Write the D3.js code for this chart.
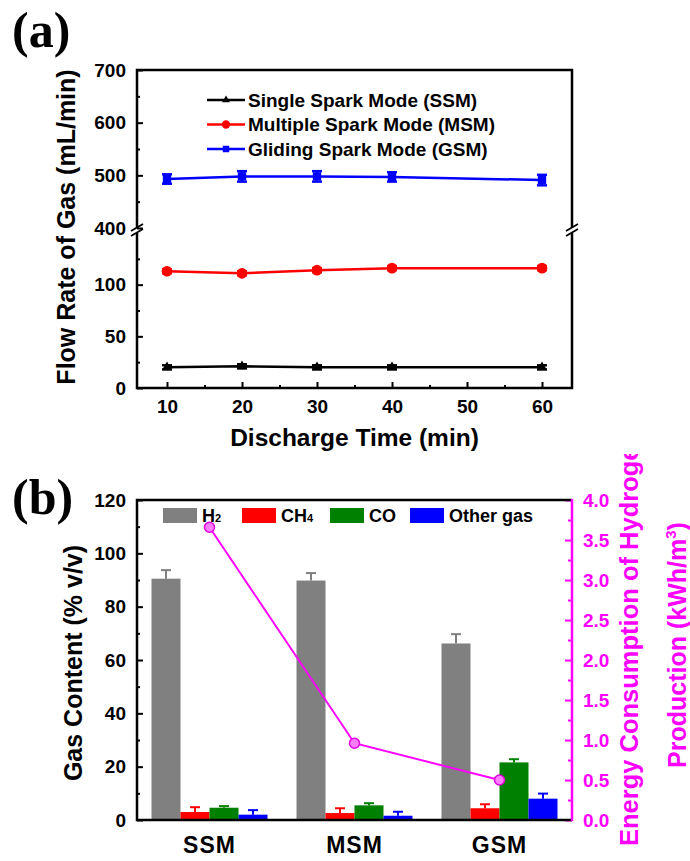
<!DOCTYPE html>
<html>
<head>
<meta charset="utf-8">
<script src="https://cdn.jsdelivr.net/npm/d3@7"></script>
<style>
  body { margin: 0; background: #fff; }
  text { font-family: "Liberation Sans", Arial, sans-serif; font-weight: bold; }
</style>
</head>
<body>
<svg id="chart" width="690" height="861"></svg>
<script>
// panel (a) data
var times = [10, 20, 30, 40, 60];
var ssmFlow = [20, 21, 20, 20, 20];
var ssmErr = [2, 2, 2, 2, 2];
var msmFlow = [113, 111, 114, 116, 116];
var msmErr = [2, 2, 2, 2, 2];
var gsmFlow = [493, 498, 498, 497, 491];
var gsmErr = [9, 10, 10, 9, 10];
var flowSeries = ["Single Spark Mode (SSM)", "Multiple Spark Mode (MSM)", "Gliding Spark Mode (GSM)"];

// panel (b) data
var modes = ["SSM", "MSM", "GSM"];
var gases = ["H2", "CH4", "CO", "Other gas"];
var h2 = [90.5, 89.8, 66.2];
var h2Err = [3.2, 2.8, 3.5];
var ch4 = [3.0, 2.6, 4.4];
var ch4Err = [1.8, 1.8, 1.5];
var co = [4.6, 5.5, 21.6];
var coErr = [0.6, 0.8, 1.2];
var other = [2.0, 1.6, 8.0];
var otherErr = [1.7, 1.5, 1.9];
var energy = [3.66, 0.96, 0.50];

var svg = d3.select("#chart");
var MAG = "#f0f";
var TICKFONT = "19px";
var TITLEFONT = "25px";

function noDomain(g) { g.select(".domain").remove(); }
function styleTicks(g, col) {
  g.selectAll(".tick text").style("font-size", TICKFONT).style("font-weight", "bold")
    .style("font-family", "'Liberation Sans', Arial, sans-serif").attr("fill", col || "#000");
  g.selectAll(".tick line").attr("stroke", col || "#000").attr("stroke-width", 2);
}

/////////////////// panel (a)
var L = 137, R = 572;
var x = d3.scaleLinear().domain([6, 64]).range([L, R]);
var yLow = d3.scaleLinear().domain([0, 150]).range([388, 233]);
var yHigh = d3.scaleLinear().domain([400, 700]).range([228, 70]);

var pa = svg.append("g");

pa.append("text").attr("x", 12).attr("y", 47)
  .style("font-family", "'Liberation Serif', 'Times New Roman', serif")
  .style("font-size", "50px").text("(a)");

// axes
pa.append("g").attr("transform", "translate(0,388)")
  .call(d3.axisBottom(x).tickValues([10, 20, 30, 40, 50, 60]).tickSizeInner(-6).tickSizeOuter(0).tickPadding(12))
  .call(noDomain).call(styleTicks);
pa.append("g").attr("transform", "translate(0,388)")
  .call(d3.axisBottom(x).tickValues([15, 25, 35, 45, 55]).tickSize(-3).tickFormat(""))
  .call(noDomain).call(styleTicks);

pa.append("g").attr("transform", "translate(" + L + ",0)")
  .call(d3.axisLeft(yLow).tickValues([0, 50, 100]).tickSizeInner(-6).tickPadding(11))
  .call(noDomain).call(styleTicks);
pa.append("g").attr("transform", "translate(" + L + ",0)")
  .call(d3.axisLeft(yLow).tickValues([25, 75, 125]).tickSize(-3).tickFormat(""))
  .call(noDomain).call(styleTicks);
pa.append("g").attr("transform", "translate(" + L + ",0)")
  .call(d3.axisLeft(yHigh).tickValues([400, 500, 600, 700]).tickSizeInner(-6).tickPadding(11))
  .call(noDomain).call(styleTicks);
pa.append("g").attr("transform", "translate(" + L + ",0)")
  .call(d3.axisLeft(yHigh).tickValues([450, 550, 650]).tickSize(-3).tickFormat(""))
  .call(noDomain).call(styleTicks);

// frame with breaks
var frame = pa.append("g").attr("stroke", "#000").attr("stroke-width", 2.5).attr("fill", "none");
frame.append("path").attr("d",
  "M" + L + "," + yHigh(400) + "V" + yHigh(700) + "H" + R + "V" + yHigh(400) +
  "M" + L + "," + yLow(150) + "V" + yLow(0) + "H" + R + "V" + yLow(150));
[L, R].forEach(function(xx) {
  [yHigh(400), yLow(150)].forEach(function(yy) {
    frame.append("line").attr("x1", xx - 6).attr("y1", yy + 3).attr("x2", xx + 6).attr("y2", yy - 4)
      .attr("stroke-width", 1.8);
  });
});

// series
var series = [
  { vals: ssmFlow, err: ssmErr, y: yLow, color: "#000", sym: d3.symbolTriangle, size: 45 },
  { vals: msmFlow, err: msmErr, y: yLow, color: "#f00", sym: d3.symbolCircle, size: 90 },
  { vals: gsmFlow, err: gsmErr, y: yHigh, color: "#00f", sym: d3.symbolSquare, size: 70 }
];

series.forEach(function(s) {
  var g = pa.append("g");
  var line = d3.line().x(function(d, i) { return x(times[i]); }).y(function(d) { return s.y(d); });
  g.append("path").datum(s.vals).attr("d", line)
    .attr("fill", "none").attr("stroke", s.color).attr("stroke-width", 2.5);
  var eb = g.selectAll(".eb").data(s.vals).enter().append("g").attr("stroke", s.color).attr("stroke-width", 2.4);
  eb.append("line")
    .attr("x1", function(d, i) { return x(times[i]); }).attr("x2", function(d, i) { return x(times[i]); })
    .attr("y1", function(d, i) { return s.y(d - s.err[i]); }).attr("y2", function(d, i) { return s.y(d + s.err[i]); });
  [-1, 1].forEach(function(sgn) {
    eb.append("line")
      .attr("x1", function(d, i) { return x(times[i]) - 5; }).attr("x2", function(d, i) { return x(times[i]) + 5; })
      .attr("y1", function(d, i) { return s.y(d + sgn * s.err[i]); }).attr("y2", function(d, i) { return s.y(d + sgn * s.err[i]); });
  });
  g.selectAll(".pt").data(s.vals).enter().append("path")
    .attr("d", d3.symbol().type(s.sym).size(s.size))
    .attr("transform", function(d, i) { return "translate(" + x(times[i]) + "," + s.y(d) + ")"; })
    .attr("fill", s.color);
});

// legend (a)
var la = pa.append("g");
flowSeries.forEach(function(name, i) {
  var yy = 100 + i * 24.5;
  la.append("line").attr("x1", 207).attr("x2", 245).attr("y1", yy).attr("y2", yy)
    .attr("stroke", series[i].color).attr("stroke-width", 2.5);
  la.append("path").attr("d", d3.symbol().type(series[i].sym).size(series[i].size * 0.6))
    .attr("transform", "translate(226," + yy + ")").attr("fill", series[i].color);
  la.append("text").attr("x", 248).attr("y", yy + 6.5).style("font-size", "19px").text(name);
});

pa.append("text").attr("x", (L + R) / 2).attr("y", 446).attr("text-anchor", "middle")
  .style("font-size", "24.5px").text("Discharge Time (min)");
pa.append("text").attr("transform", "translate(75,227) rotate(-90)").attr("text-anchor", "middle")
  .style("font-size", TITLEFONT).text("Flow Rate of Gas (mL/min)");

/////////////////// panel (b)
var T = 500, B = 820;
var x0 = d3.scaleBand().domain(modes).range([L, R]);
var groupW = 116;
var x1 = d3.scaleBand().domain(gases).range([0, groupW]);
var yb = d3.scaleLinear().domain([0, 120]).range([B, T]);
var ye = d3.scaleLinear().domain([0, 4]).range([B, T]);
var gasColor = d3.scaleOrdinal().domain(gases).range(["#808080", "#ff0000", "#008000", "#0000ff"]);
var gasVals = { "H2": [h2, h2Err], "CH4": [ch4, ch4Err], "CO": [co, coErr], "Other gas": [other, otherErr] };

var pb = svg.append("g");
pb.append("text").attr("x", 12).attr("y", 514)
  .style("font-family", "'Liberation Serif', 'Times New Roman', serif")
  .style("font-size", "50px").text("(b)");

// bars
gases.forEach(function(gname) {
  var v = gasVals[gname][0], e = gasVals[gname][1];
  var col = gasColor(gname);
  var gg = pb.append("g");
  function bx(i) { return x0(modes[i]) + (x0.bandwidth() - groupW) / 2 + x1(gname); }
  gg.selectAll("rect").data(v).enter().append("rect")
    .attr("x", function(d, i) { return bx(i); })
    .attr("width", x1.bandwidth())
    .attr("y", function(d) { return yb(d); })
    .attr("height", function(d) { return B - yb(d); })
    .attr("fill", col);
  var eg = gg.selectAll(".e").data(v).enter().append("g").attr("stroke", col).attr("stroke-width", 2);
  eg.append("line")
    .attr("x1", function(d, i) { return bx(i) + x1.bandwidth() / 2; })
    .attr("x2", function(d, i) { return bx(i) + x1.bandwidth() / 2; })
    .attr("y1", function(d) { return yb(d); })
    .attr("y2", function(d, i) { return yb(d + e[i]); });
  eg.append("line")
    .attr("x1", function(d, i) { return bx(i) + x1.bandwidth() / 2 - 5; })
    .attr("x2", function(d, i) { return bx(i) + x1.bandwidth() / 2 + 5; })
    .attr("y1", function(d, i) { return yb(d + e[i]); })
    .attr("y2", function(d, i) { return yb(d + e[i]); });
});

// left axis
pb.append("g").attr("transform", "translate(" + L + ",0)")
  .call(d3.axisLeft(yb).tickValues(d3.range(0, 121, 20)).tickSizeInner(-6).tickPadding(11))
  .call(noDomain).call(styleTicks);
pb.append("g").attr("transform", "translate(" + L + ",0)")
  .call(d3.axisLeft(yb).tickValues(d3.range(10, 120, 20)).tickSize(-3).tickFormat(""))
  .call(noDomain).call(styleTicks);

// right axis (energy)
pb.append("g").attr("transform", "translate(" + R + ",0)")
  .call(d3.axisRight(ye).tickValues(d3.range(0, 4.01, 0.5)).tickFormat(d3.format(".1f")).tickSizeInner(-7).tickPadding(11))
  .call(noDomain).call(styleTicks, MAG);
pb.append("g").attr("transform", "translate(" + R + ",0)")
  .call(d3.axisRight(ye).tickValues(d3.range(0.25, 4, 0.5)).tickSize(-4).tickFormat(""))
  .call(noDomain).call(styleTicks, MAG);

// frame
pb.append("path").attr("d", "M" + R + "," + T + "H" + L + "V" + B + "H" + R)
  .attr("fill", "none").attr("stroke", "#000").attr("stroke-width", 2.5);
pb.append("line").attr("x1", R).attr("x2", R).attr("y1", T - 1).attr("y2", B + 1)
  .attr("stroke", MAG).attr("stroke-width", 2.5);

// energy line
var eline = d3.line().x(function(d, i) { return x0(modes[i]) + x0.bandwidth() / 2; }).y(function(d) { return ye(d); });
pb.append("path").datum(energy).attr("d", eline).attr("fill", "none").attr("stroke", MAG).attr("stroke-width", 2);
pb.selectAll(".ep").data(energy).enter().append("circle")
  .attr("cx", function(d, i) { return x0(modes[i]) + x0.bandwidth() / 2; })
  .attr("cy", function(d) { return ye(d); })
  .attr("r", 5).attr("fill", "#ff7fff").attr("stroke", "#e000e0").attr("stroke-width", 1.5);

// category labels
pb.selectAll(".cat").data(modes).enter().append("text")
  .attr("x", function(d) { return x0(d) + x0.bandwidth() / 2; })
  .attr("y", 853).attr("text-anchor", "middle").style("font-size", "23px").style("letter-spacing", "1px")
  .text(function(d) { return d; });

// legend (b)
var legB = [
  { x: 163, name: "H", sub: "2" },
  { x: 242, name: "CH", sub: "4" },
  { x: 330, name: "CO", sub: "" },
  { x: 410, name: "Other gas", sub: "" }
];
legB.forEach(function(d, i) {
  pb.append("rect").attr("x", d.x).attr("y", 508).attr("width", 34).attr("height", 15).attr("fill", gasColor(gases[i]));
  var t = pb.append("text").attr("x", d.x + 39).attr("y", 522).style("font-size", "18px").text(d.name);
  if (d.sub) t.append("tspan").style("font-size", "11px").text(d.sub);
});

// axis titles
pb.append("text").attr("transform", "translate(82,663) rotate(-90)").attr("text-anchor", "middle")
  .style("font-size", TITLEFONT).text("Gas Content (% v/v)");

pb.append("clipPath").attr("id", "rclip").append("rect").attr("x", 600).attr("y", 454).attr("width", 90).attr("height", 407);
pb.append("g").attr("clip-path", "url(#rclip)")
  .append("text").attr("transform", "translate(638,846) rotate(-90)")
  .attr("fill", MAG).style("font-size", "25.5px").text("Energy Consumption of Hydrogen");
var pt = pb.append("text").attr("transform", "translate(686,645) rotate(-90)").attr("text-anchor", "middle")
  .attr("fill", MAG).style("font-size", TITLEFONT).text("Production (kWh/m");
pt.append("tspan").attr("dy", -10).style("font-size", "15px").text("3");
pt.append("tspan").attr("dy", 10).text(")");
</script>
</body>
</html>
